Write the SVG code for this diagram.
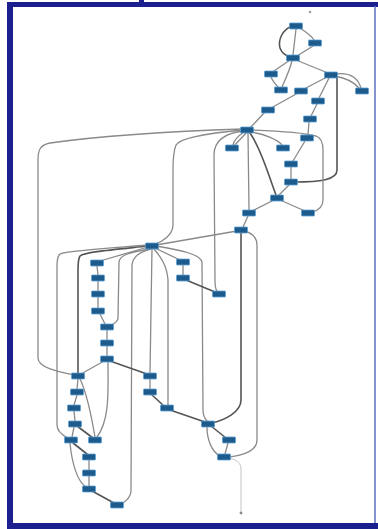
<svg xmlns="http://www.w3.org/2000/svg" width="378" height="529" viewBox="0 0 378 529">
<style>
.e{fill:none;stroke:#8a8a8a;stroke-width:1.3;stroke-linecap:round}
.d{fill:none;stroke:#555555;stroke-width:1.6;stroke-linecap:round}
.l{fill:none;stroke:#c4c4c4;stroke-width:1;stroke-linecap:round}
.n use{fill:#1d5b8c;stroke:#5d9fd3;stroke-width:0.8}
.fr{fill:#1c1f8e}
</style>
<defs>
<rect id="nb" x="-6.5" y="-3" width="13" height="6" rx="0.8"/>
</defs>
<rect x="0" y="0" width="378" height="529" fill="#ffffff"/>
<g id="frame">
<rect class="fr" x="7" y="2" width="371" height="5"/>
<rect class="fr" x="139" y="0" width="5" height="3"/>
<rect class="fr" x="7" y="2" width="6" height="527"/>
<rect class="fr" x="7" y="523" width="371" height="6"/>
<line x1="375" y1="6" x2="375" y2="523" stroke="#5c6fc4" stroke-width="1.5"/>
<circle cx="310" cy="12" r="1.2" fill="#999"/>
<circle cx="241" cy="513" r="1.4" fill="#888"/>
</g>
<g id="connectors">
<path class="e" d="M296,29 L293,55"/>
<path class="d" d="M292,26 C282,30 278,40 280,48 C282,54 287,56 290,57"/>
<path class="e" d="M300,28 C306,32 312,36 314,40"/>
<path class="e" d="M313,46 L297,56"/>
<path class="e" d="M290,60 L274,71"/>
<path class="e" d="M292,61 C289,72 285,80 282,87"/>
<path class="e" d="M271,77 C273,82 277,86 279,88"/>
<path class="e" d="M296,60 L328,73"/>
<path class="e" d="M327,77 L304,89"/>
<path class="e" d="M335,74 C350,72 358,78 361,88"/>
<path class="e" d="M334,76 C346,78 354,82 359,88"/>
<path class="e" d="M329,78 L319,98"/>
<path class="d" d="M294,182 C320,182 337,180 337,170 L337,78"/>
<path class="e" d="M298,93 L271,108"/>
<path class="e" d="M317,104 L311,116"/>
<path class="e" d="M265,112 L250,128"/>
<path class="e" d="M309,122 L308,135"/>
<path class="e" d="M305,141 L293,161"/>
<path class="e" d="M291,167 L291,179"/>
<path class="e" d="M289,185 L279,195"/>
<path class="e" d="M244,132 C238,136 234,140 233,145"/>
<path class="e" d="M246,133 C242,138 237,142 235,145"/>
<path class="e" d="M251,132 C265,134 278,140 282,145"/>
<path class="d" d="M250,133 C262,150 270,180 276,195"/>
<path class="e" d="M248,133 L249,210"/>
<path class="e" d="M252,130 C280,131 305,133 316,136 C322,138 323,145 323,150 L323,200 C323,208 316,211 312,212"/>
<path class="e" d="M244,131 C225,133 214,140 214,155 L215,280 C215,287 216,290 217,291"/>
<path class="e" d="M243,130 C210,133 180,138 176,145 C174,150 173,155 173,170 L173,225 C173,235 162,242 155,244"/>
<path class="e" d="M243,129 C180,131 100,136 50,143 C40,145 38,150 38,160 L38,358 C38,368 60,372 74,375"/>
<path class="e" d="M274,200 L252,211"/>
<path class="e" d="M280,200 L305,211"/>
<path class="e" d="M248,216 L243,227"/>
<path class="e" d="M237,231 L156,245"/>
<path class="d" d="M241,233 L241,400 C241,412 225,420 212,423"/>
<path class="e" d="M244,231 C252,233 257,238 257,245 L257,440 C257,452 240,456 228,457"/>
<path class="e" d="M148,247 L100,261"/>
<path class="d" d="M148,246 C110,250 85,252 80,256 C78,259 78,262 78,270 L78,373"/>
<path class="e" d="M148,245 C100,249 65,251 60,254 C57,257 57,262 57,270 L57,425 C57,432 64,436 68,438"/>
<path class="e" d="M150,249 C130,252 120,255 119,262 L118,318 C118,322 112,325 110,326"/>
<path class="e" d="M151,249 C140,252 133,256 132,265 L131,490 C131,498 124,503 120,504"/>
<path class="e" d="M152,249 L150,373"/>
<path class="e" d="M154,249 C160,256 167,265 168,280 L168,405"/>
<path class="e" d="M155,248 L180,260"/>
<path class="e" d="M156,246 C180,250 200,254 202,262 L203,410 C203,416 206,420 207,421"/>
<path class="e" d="M183,265 L183,275"/>
<path class="d" d="M186,280 L215,292"/>
<path class="e" d="M97,266 L98,275"/>
<path class="e" d="M98,281 L98,291"/>
<path class="e" d="M98,297 L98,308"/>
<path class="e" d="M100,314 L105,324"/>
<path class="e" d="M107,330 L107,340"/>
<path class="e" d="M107,346 L107,356"/>
<path class="e" d="M104,361 L81,374"/>
<path class="d" d="M110,361 L147,374"/>
<path class="e" d="M108,362 C108,390 110,420 97,437"/>
<path class="e" d="M78,379 L77,389"/>
<path class="e" d="M80,379 C88,395 92,420 95,437"/>
<path class="e" d="M77,395 L74,405"/>
<path class="e" d="M74,411 L75,421"/>
<path class="e" d="M74,427 L72,437"/>
<path class="d" d="M77,426 L93,438"/>
<path class="d" d="M73,443 L87,454"/>
<path class="e" d="M70,443 C72,465 78,482 86,487"/>
<path class="e" d="M89,460 L89,470"/>
<path class="e" d="M89,476 L89,486"/>
<path class="d" d="M92,491 L114,503"/>
<path class="e" d="M150,379 L150,389"/>
<path class="d" d="M152,395 L164,406"/>
<path class="d" d="M170,410 L205,422"/>
<path class="d" d="M211,426 L226,438"/>
<path class="e" d="M207,427 C207,440 212,452 220,456"/>
<path class="e" d="M228,443 L225,454"/>
<path class="l" d="M229,458 C238,460 241,463 241,470 L241,511"/>
</g>
<g class="n">
<g id="n1" transform="translate(296,26)"><use href="#nb"/></g>
<g id="n2" transform="translate(315,43)"><use href="#nb"/></g>
<g id="n3" transform="translate(293,58)"><use href="#nb"/></g>
<g id="n4" transform="translate(271,74)"><use href="#nb"/></g>
<g id="n5" transform="translate(281,90)"><use href="#nb"/></g>
<g id="n6" transform="translate(331,75)"><use href="#nb"/></g>
<g id="n7" transform="translate(301,91)"><use href="#nb"/></g>
<g id="n8" transform="translate(362,91)"><use href="#nb"/></g>
<g id="n9" transform="translate(318,101)"><use href="#nb"/></g>
<g id="n10" transform="translate(268,110)"><use href="#nb"/></g>
<g id="n11" transform="translate(310,119)"><use href="#nb"/></g>
<g id="n12" transform="translate(247,130)"><use href="#nb"/></g>
<g id="n13" transform="translate(307,138)"><use href="#nb"/></g>
<g id="n14" transform="translate(232,148)"><use href="#nb"/></g>
<g id="n15" transform="translate(283,148)"><use href="#nb"/></g>
<g id="n16" transform="translate(291,164)"><use href="#nb"/></g>
<g id="n17" transform="translate(291,182)"><use href="#nb"/></g>
<g id="n18" transform="translate(277,198)"><use href="#nb"/></g>
<g id="n19" transform="translate(249,213)"><use href="#nb"/></g>
<g id="n20" transform="translate(308,213)"><use href="#nb"/></g>
<g id="n21" transform="translate(241,230)"><use href="#nb"/></g>
<g id="n22" transform="translate(152,246)"><use href="#nb"/></g>
<g id="n23" transform="translate(97,263)"><use href="#nb"/></g>
<g id="n24" transform="translate(183,262)"><use href="#nb"/></g>
<g id="n25" transform="translate(98,278)"><use href="#nb"/></g>
<g id="n26" transform="translate(183,278)"><use href="#nb"/></g>
<g id="n27" transform="translate(98,294)"><use href="#nb"/></g>
<g id="n28" transform="translate(219,294)"><use href="#nb"/></g>
<g id="n29" transform="translate(98,311)"><use href="#nb"/></g>
<g id="n30" transform="translate(107,327)"><use href="#nb"/></g>
<g id="n31" transform="translate(107,343)"><use href="#nb"/></g>
<g id="n32" transform="translate(107,359)"><use href="#nb"/></g>
<g id="n33" transform="translate(78,376)"><use href="#nb"/></g>
<g id="n34" transform="translate(150,376)"><use href="#nb"/></g>
<g id="n35" transform="translate(77,392)"><use href="#nb"/></g>
<g id="n36" transform="translate(150,392)"><use href="#nb"/></g>
<g id="n37" transform="translate(74,408)"><use href="#nb"/></g>
<g id="n38" transform="translate(75,424)"><use href="#nb"/></g>
<g id="n39" transform="translate(71,440)"><use href="#nb"/></g>
<g id="n40" transform="translate(95,440)"><use href="#nb"/></g>
<g id="n41" transform="translate(89,457)"><use href="#nb"/></g>
<g id="n42" transform="translate(89,473)"><use href="#nb"/></g>
<g id="n43" transform="translate(89,489)"><use href="#nb"/></g>
<g id="n44" transform="translate(117,505)"><use href="#nb"/></g>
<g id="n45" transform="translate(167,408)"><use href="#nb"/></g>
<g id="n46" transform="translate(208,424)"><use href="#nb"/></g>
<g id="n47" transform="translate(229,440)"><use href="#nb"/></g>
<g id="n48" transform="translate(224,457)"><use href="#nb"/></g>
</g>
</svg>
